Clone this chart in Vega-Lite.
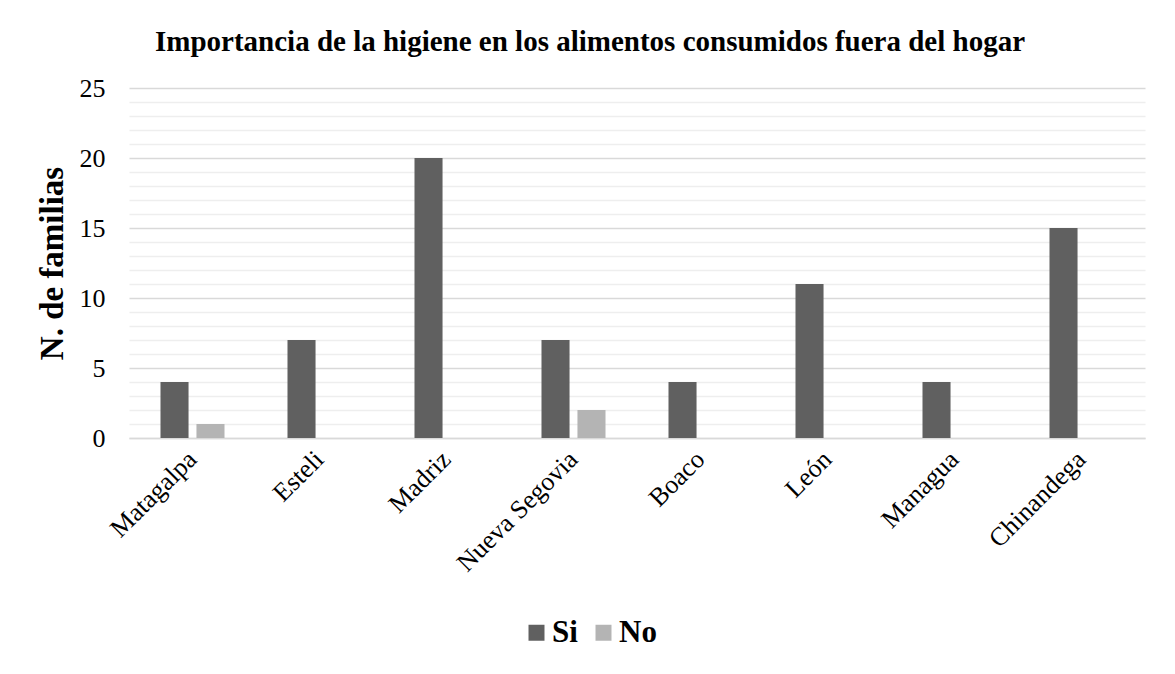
{
  "$schema": "https://vega.github.io/schema/vega-lite/v6.json",
  "autosize": "none",
  "width": 1016,
  "height": 350,
  "padding": {"left": 129, "top": 88, "right": 30, "bottom": 236},
  "background": "white",
  "config": {
    "font": "Liberation Serif",
    "view": {"stroke": null}
  },
  "title": {
    "text": "Importancia de la higiene en los alimentos consumidos fuera del hogar",
    "font": "Liberation Serif",
    "fontSize": 29,
    "fontWeight": "bold",
    "color": "#000000",
    "anchor": "middle",
    "dx": -47,
    "offset": 18
  },
  "data": {
    "values": [
      {"provincia": "Matagalpa", "respuesta": "Si", "familias": 4},
      {"provincia": "Matagalpa", "respuesta": "No", "familias": 1},
      {"provincia": "Esteli", "respuesta": "Si", "familias": 7},
      {"provincia": "Esteli", "respuesta": "No", "familias": 0},
      {"provincia": "Madriz", "respuesta": "Si", "familias": 20},
      {"provincia": "Madriz", "respuesta": "No", "familias": 0},
      {"provincia": "Nueva Segovia", "respuesta": "Si", "familias": 7},
      {"provincia": "Nueva Segovia", "respuesta": "No", "familias": 2},
      {"provincia": "Boaco", "respuesta": "Si", "familias": 4},
      {"provincia": "Boaco", "respuesta": "No", "familias": 0},
      {"provincia": "León", "respuesta": "Si", "familias": 11},
      {"provincia": "León", "respuesta": "No", "familias": 0},
      {"provincia": "Managua", "respuesta": "Si", "familias": 4},
      {"provincia": "Managua", "respuesta": "No", "familias": 0},
      {"provincia": "Chinandega", "respuesta": "Si", "familias": 15},
      {"provincia": "Chinandega", "respuesta": "No", "familias": 0}
    ]
  },
  "mark": {"type": "bar"},
  "encoding": {
    "x": {
      "field": "provincia",
      "type": "nominal",
      "sort": null,
      "scale": {"paddingInner": 0.496, "paddingOuter": 0.248},
      "axis": {
        "title": null,
        "labelAngle": -45,
        "labelAlign": "right",
        "labelBaseline": "middle",
        "labelFont": "Liberation Serif",
        "labelFontSize": 26,
        "labelColor": "#000000",
        "labelPadding": 17,
        "ticks": false,
        "domainColor": "#d9d9d9",
        "domainWidth": 1.3,
        "grid": false
      }
    },
    "xOffset": {
      "field": "respuesta",
      "type": "nominal",
      "sort": ["Si", "No"],
      "scale": {"paddingInner": 0.22, "paddingOuter": 0}
    },
    "y": {
      "field": "familias",
      "type": "quantitative",
      "scale": {"domain": [0, 25], "nice": false},
      "axis": {
        "title": "N. de familias",
        "titleFont": "Liberation Serif",
        "titleFontSize": 33,
        "titleFontWeight": "bold",
        "titleColor": "#000000",
        "titlePadding": 10,
        "values": [0,1,2,3,4,5,6,7,8,9,10,11,12,13,14,15,16,17,18,19,20,21,22,23,24,25],
        "labelExpr": "datum.value % 5 === 0 ? datum.label : ''",
        "labelFont": "Liberation Serif",
        "labelFontSize": 26,
        "labelColor": "#000000",
        "labelPadding": 24,
        "ticks": false,
        "domain": false,
        "grid": true,
        "gridColor": {"condition": {"test": "datum.value % 5 === 0", "value": "#d9d9d9"}, "value": "#eeeeee"},
        "gridWidth": 1.3
      }
    },
    "color": {
      "field": "respuesta",
      "type": "nominal",
      "sort": ["Si", "No"],
      "scale": {"domain": ["Si", "No"], "range": ["#606060", "#b4b4b4"]},
      "legend": {
        "title": null,
        "orient": "none",
        "direction": "horizontal",
        "legendX": 392,
        "legendY": 529,
        "symbolType": "square",
        "symbolSize": 256,
        "symbolStrokeWidth": 0,
        "labelFont": "Liberation Serif",
        "labelFontSize": 31,
        "labelFontWeight": "bold",
        "labelColor": "#000000",
        "labelOffset": 0,
        "columnPadding": 10
      }
    }
  }
}
